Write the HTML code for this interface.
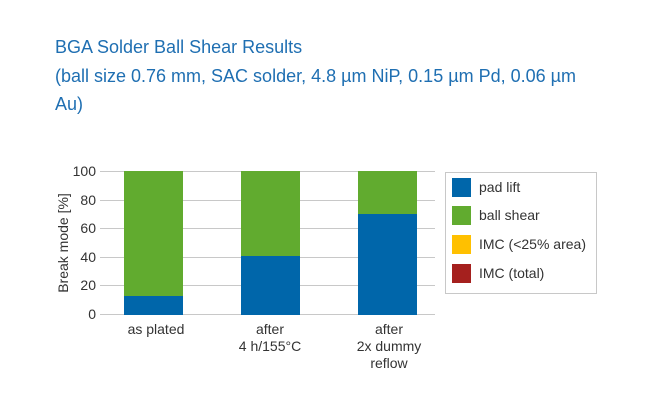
<!DOCTYPE html>
<html><head><meta charset="utf-8"><style>
body{margin:0;background:#fff;width:649px;height:412px;overflow:hidden;font-family:"Liberation Sans",sans-serif}
</style></head><body>
<svg width="649" height="412" xmlns="http://www.w3.org/2000/svg" font-family="Liberation Sans, sans-serif">
<g fill="#1f6fb2" font-size="18">
<text x="55" y="53">BGA Solder Ball Shear Results</text>
<text x="55" y="82">(ball size 0.76 mm, SAC solder, 4.8 µm NiP, 0.15 µm Pd, 0.06 µm</text>
<text x="55" y="110">Au)</text>
</g>
<g stroke="#c8c8c8" stroke-width="1">
<line x1="100" x2="435" y1="171.5" y2="171.5"/>
<line x1="100" x2="435" y1="200.5" y2="200.5"/>
<line x1="100" x2="435" y1="228.5" y2="228.5"/>
<line x1="100" x2="435" y1="257.5" y2="257.5"/>
<line x1="100" x2="435" y1="285.5" y2="285.5"/>
<line x1="100" x2="435" y1="314.5" y2="314.5"/>
</g>
<rect x="124" y="171" width="59" height="125" fill="#61ab2f"/>
<rect x="124" y="296" width="59" height="19" fill="#0066aa"/>
<rect x="241" y="171" width="59" height="85" fill="#61ab2f"/>
<rect x="241" y="256" width="59" height="59" fill="#0066aa"/>
<rect x="358" y="171" width="59" height="43" fill="#61ab2f"/>
<rect x="358" y="214" width="59" height="101" fill="#0066aa"/>
<g font-size="14" fill="#333" text-anchor="end">
<text x="96" y="176">100</text><text x="96" y="205">80</text><text x="96" y="233">60</text>
<text x="96" y="262">40</text><text x="96" y="290">20</text><text x="96" y="319">0</text>
</g>
<text transform="translate(68,243) rotate(-90)" font-size="14" fill="#333" text-anchor="middle">Break mode [%]</text>
<g font-size="14" fill="#333" text-anchor="middle">
<text x="156" y="334">as plated</text>
<text x="270" y="334">after</text><text x="270" y="351">4 h/155°C</text>
<text x="389" y="334">after</text><text x="389" y="351">2x dummy</text><text x="389" y="368">reflow</text>
</g>
<rect x="445.5" y="172.5" width="151" height="121" fill="none" stroke="#c8c8c8"/>
<rect x="452" y="178" width="19" height="19" fill="#0066aa"/>
<rect x="452" y="206" width="19" height="19" fill="#61ab2f"/>
<rect x="452" y="235" width="19" height="19" fill="#ffc000"/>
<rect x="452" y="264" width="19" height="19" fill="#a5201e"/>
<g font-size="14" fill="#333">
<text x="479" y="192">pad lift</text>
<text x="479" y="220">ball shear</text>
<text x="479" y="249">IMC (&lt;25% area)</text>
<text x="479" y="278">IMC (total)</text>
</g>
</svg>
</body></html>
